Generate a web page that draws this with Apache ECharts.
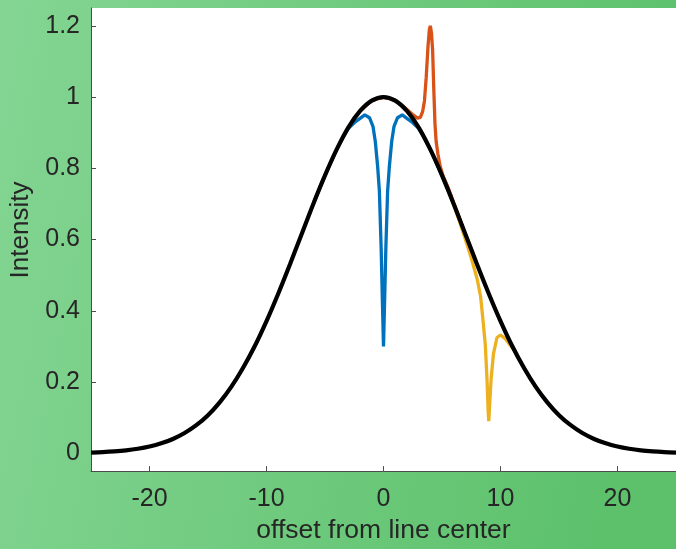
<!DOCTYPE html>
<html>
<head>
<meta charset="utf-8">
<script src="https://cdn.jsdelivr.net/npm/echarts@6/dist/echarts.min.js"></script>
<style>
html,body{margin:0;padding:0;}
#c{width:676px;height:549px;}
</style>
</head>
<body>
<div id="c"></div>
<script>
// ---- data ----
const blackX = [-25,-24,-23,-22,-21,-20,-19,-18,-17,-16,-15,-14,-13,-12,-11,-10,-9,-8,-7,-6,-5,-4,-3,-2,-1,0,1,2,3,4,5,6,7,8,9,10,11,12,13,14,15,16,17,18,19,20,21,22,23,24,25];
const blackY = [0.002,0.0033,0.0053,0.0082,0.0126,0.0189,0.0279,0.0402,0.0569,0.0789,0.107,0.143,0.187,0.240,0.301,0.371,0.448,0.530,0.615,0.700,0.780,0.853,0.915,0.961,0.990,1.000,0.990,0.961,0.915,0.853,0.780,0.700,0.615,0.530,0.448,0.371,0.301,0.240,0.187,0.143,0.107,0.0789,0.0569,0.0402,0.0279,0.0189,0.0126,0.0082,0.0053,0.0033,0.002];

const blueX = [-6,-5,-4,-3.5,-3,-2.5,-2,-1.6,-1.2,-0.9,-0.7,-0.5,-0.35,-0.2,-0.1,0,0.1,0.2,0.35,0.5,0.7,0.9,1.2,1.6,2,2.5,3,3.5,4,5,6];
const blueY = [0.700,0.780,0.853,0.885,0.912,0.928,0.940,0.950,0.942,0.918,0.875,0.805,0.735,0.575,0.435,0.300,0.435,0.575,0.735,0.805,0.875,0.918,0.942,0.950,0.940,0.928,0.912,0.885,0.853,0.780,0.700];

const orangeX = [-3,-2,-1,0,1,1.5,2,2.5,2.9,3.15,3.35,3.5,3.65,3.8,3.92,4.0,4.1,4.2,4.3,4.4,4.5,4.65,4.85,5.1,5.5,6,7,8];
const orangeY = [0.915,0.961,0.990,1.000,0.991,0.979,0.965,0.951,0.941,0.943,0.960,0.989,1.055,1.140,1.190,1.200,1.180,1.130,1.020,0.925,0.875,0.840,0.805,0.778,0.748,0.703,0.615,0.530];

const yellowX = [5,6,6.5,7,7.5,8,8.3,8.5,8.7,8.85,8.95,9.0,9.08,9.2,9.4,9.7,10.0,10.4,10.8,11.2,12,13,14];
const yellowY = [0.780,0.698,0.650,0.600,0.548,0.490,0.440,0.375,0.305,0.205,0.115,0.090,0.140,0.210,0.280,0.325,0.332,0.322,0.305,0.288,0.240,0.187,0.143];

const xTicks = [-20,-10,0,10,20];
const yTicks = [0,0.2,0.4,0.6,0.8,1,1.2];
const xTitle = 'offset from line center';
const yTitle = 'Intensity';

// ---- build chart ----
const pairs = (xs, ys) => xs.map((x, i) => [x, ys[i]]);
const FONT = '"Liberation Sans", Arial, sans-serif';
const chart = echarts.init(document.getElementById('c'));
const axisLine = {show: true, onZero: false, lineStyle: {color: '#4d4d4d', width: 1}};
chart.setOption({
  animation: false,
  backgroundColor: {
    type: 'linear', x: 0, y: 0, x2: 1, y2: 0.25,
    colorStops: [{offset: 0, color: '#84d593'}, {offset: 1, color: '#5dc16c'}]
  },
  grid: {left: 91, top: 8, right: -3, bottom: 77, show: true, backgroundColor: '#ffffff', borderWidth: 0},
  graphic: [{
    type: 'text', x: 21, y: 230, rotation: Math.PI / 2,
    style: {text: yTitle, fill: '#262626', font: '26px ' + FONT, textAlign: 'center', textVerticalAlign: 'middle'}
  }],
  xAxis: {
    type: 'value', min: -25, max: 25,
    axisLine: axisLine, splitLine: {show: false},
    name: xTitle, nameLocation: 'middle', nameGap: 45,
    nameTextStyle: {color: '#262626', fontSize: 26.5, fontFamily: FONT},
    axisTick: {show: true, inside: true, length: 5, customValues: xTicks, lineStyle: {color: '#4d4d4d'}},
    axisLabel: {customValues: xTicks, color: '#262626', fontSize: 25, fontFamily: FONT, margin: 16}
  },
  yAxis: {
    type: 'value', min: -0.05, max: 1.25,
    axisLine: axisLine, splitLine: {show: false},
    axisTick: {show: true, inside: true, length: 5, customValues: yTicks, lineStyle: {color: '#4d4d4d'}},
    axisLabel: {customValues: yTicks, color: '#262626', fontSize: 25, fontFamily: FONT, margin: 11}
  },
  series: [
    {type: 'line', data: pairs(blueX, blueY), showSymbol: false, lineStyle: {color: '#0072BD', width: 3.3}, z: 2},
    {type: 'line', data: pairs(orangeX, orangeY), showSymbol: false, lineStyle: {color: '#D95319', width: 3.3}, z: 3},
    {type: 'line', data: pairs(yellowX, yellowY), showSymbol: false, lineStyle: {color: '#EDB120', width: 3.3}, z: 4},
    {type: 'line', data: pairs(blackX, blackY), showSymbol: false, smooth: 0.3, lineStyle: {color: '#000000', width: 4.2}, z: 5}
  ]
});
</script>
</body>
</html>
